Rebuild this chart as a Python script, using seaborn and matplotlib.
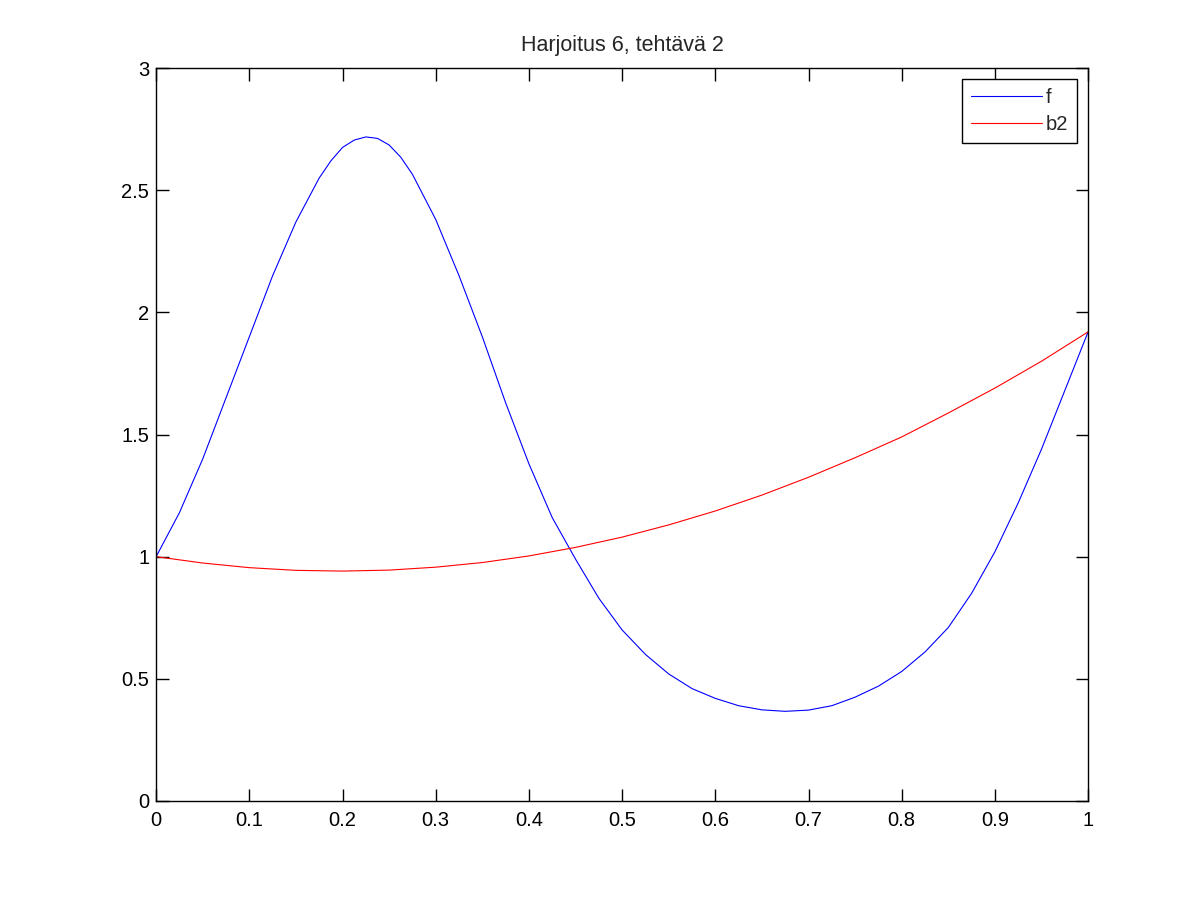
import numpy as np
import pandas as pd
import matplotlib
matplotlib.use('Agg')
import matplotlib.pyplot as plt
import seaborn as sns

# values
x_f = [0.0, 0.025, 0.05, 0.075, 0.1, 0.125, 0.15, 0.175, 0.1875, 0.2, 0.2125, 0.225,
       0.2375, 0.25, 0.2625, 0.275, 0.3, 0.325, 0.35, 0.375, 0.4, 0.425, 0.45, 0.475,
       0.5, 0.525, 0.55, 0.575, 0.6, 0.625, 0.65, 0.675, 0.7, 0.725,
       0.75, 0.775, 0.8, 0.825, 0.85, 0.875, 0.9, 0.925, 0.95, 0.975, 1.0]
y_f = [1.00, 1.18, 1.40, 1.65, 1.90, 2.15, 2.37, 2.55, 2.62, 2.675, 2.705, 2.718,
       2.712, 2.685, 2.635, 2.565, 2.38, 2.15, 1.90, 1.63, 1.38, 1.16, 0.99, 0.83,
       0.70, 0.60, 0.52, 0.46, 0.42, 0.39, 0.373, 0.367, 0.372, 0.39,
       0.425, 0.47, 0.53, 0.61, 0.71, 0.85, 1.02, 1.22, 1.44, 1.68, 1.92]

x_b2 = [0.0, 0.05, 0.1, 0.15, 0.2, 0.25, 0.3, 0.35, 0.4, 0.45, 0.5,
        0.55, 0.6, 0.65, 0.7, 0.75, 0.8, 0.85, 0.9, 0.95, 1.0]
y_b2 = [1.00, 0.974, 0.955, 0.944, 0.941, 0.945, 0.957, 0.976, 1.003, 1.038, 1.08,
        1.13, 1.187, 1.252, 1.325, 1.405, 1.49, 1.588, 1.69, 1.80, 1.92]

title = 'Harjoitus 6, tehtävä 2'
labels = ['f', 'b2']

sns.set_style('white')
plt.rcParams['font.family'] = ['Liberation Sans', 'DejaVu Sans']

df_f = pd.DataFrame({'x': x_f, 'y': y_f})
df_b = pd.DataFrame({'x': x_b2, 'y': y_b2})

fig = plt.figure(figsize=(12.01, 9.01), dpi=100)
ax = fig.add_axes([0.13, 0.111, 0.776, 0.8135])

sns.lineplot(data=df_f, x='x', y='y', color='#0000ff', lw=0.8, label=labels[0], ax=ax)
sns.lineplot(data=df_b, x='x', y='y', color='#ff0000', lw=0.8, label=labels[1], ax=ax)

ax.set_xlim(0, 1)
ax.set_ylim(0, 3)
ax.set_xticks(np.arange(0, 1.01, 0.1))
ax.set_xticklabels(['0', '0.1', '0.2', '0.3', '0.4', '0.5', '0.6', '0.7', '0.8', '0.9', '1'])
ax.set_yticks(np.arange(0, 3.01, 0.5))
ax.set_yticklabels(['0', '0.5', '1', '1.5', '2', '2.5', '3'])
ax.set_xlabel('')
ax.set_ylabel('')
ax.tick_params(direction='in', length=9, width=1, colors='black', labelsize=14.5,
               top=True, right=True, bottom=True, left=True)
ax.tick_params(axis='x', pad=7)
ax.tick_params(axis='y', pad=5)
for s in ax.spines.values():
    s.set_color('black')
    s.set_linewidth(1.0)
ax.set_title(title, fontsize=15.5, pad=12)

leg = ax.legend(loc='upper right', fontsize=14.5, frameon=True, fancybox=False,
                handlelength=3.5, borderpad=0.45, labelspacing=0.4,
                borderaxespad=0.55, handletextpad=0.2)
leg.get_frame().set_edgecolor('black')
leg.get_frame().set_linewidth(1.0)
leg.get_frame().set_alpha(1)

fig.savefig('out.png', dpi=100)
